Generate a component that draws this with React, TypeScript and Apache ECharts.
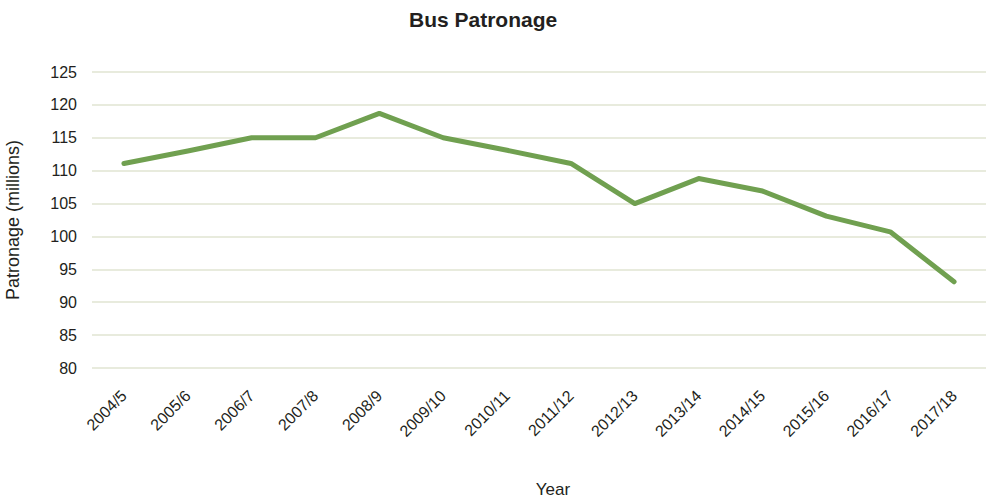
import React, { useEffect, useRef } from "react";
import * as echarts from "echarts";

const categories = [
  "2004/5", "2005/6", "2006/7", "2007/8", "2008/9", "2009/10", "2010/11",
  "2011/12", "2012/13", "2013/14", "2014/15", "2015/16", "2016/17", "2017/18",
];
const patronage = [111.1, 113, 115, 115, 118.7, 115, 113.1, 111.1, 105, 108.8, 106.9, 103.1, 100.7, 93.1];
const yMin = 80;
const yMax = 125;
const yStep = 5;

const FONT = "'Liberation Sans', Arial, sans-serif";

export default function App() {
  const ref = useRef<HTMLDivElement>(null);
  useEffect(() => {
    if (!ref.current) return;
    const chart = echarts.init(ref.current, undefined, { renderer: "svg" });
    chart.setOption({
      animation: false,
      backgroundColor: "#ffffff",
      textStyle: { fontFamily: FONT },
      title: {
        text: "Bus Patronage",
        left: 404,
        top: 4,
        textStyle: { fontFamily: FONT, fontSize: 21, fontWeight: "bold", color: "#231f20" },
      },
      grid: {
        left: 92,
        right: 4,
        top: 72,
        bottom: 131,
        containLabel: false,
        outerBoundsMode: "none",
      },
      xAxis: {
        type: "category",
        data: categories,
        boundaryGap: true,
        name: "Year",
        nameLocation: "middle",
        nameGap: 113,
        nameTextStyle: { fontFamily: FONT, fontSize: 17, color: "#231f20", padding: [0, 0, 0, 28] },
        axisLine: { show: false },
        axisTick: { show: false },
        axisLabel: {
          rotate: 45,
          interval: 0,
          margin: 25,
          fontFamily: FONT,
          fontSize: 16,
          color: "#231f20",
        },
      },
      yAxis: {
        type: "value",
        min: yMin,
        max: yMax,
        interval: yStep,
        name: "Patronage (millions)",
        nameLocation: "middle",
        nameGap: 70,
        nameRotate: 90,
        nameTextStyle: { fontFamily: FONT, fontSize: 18, color: "#231f20" },
        axisLine: { show: false },
        axisTick: { show: false },
        axisLabel: { margin: 15, fontFamily: FONT, fontSize: 16, color: "#231f20" },
        splitLine: { lineStyle: { color: "#e0e4d2", width: 1.5 } },
      },
      series: [
        {
          type: "line",
          data: patronage,
          symbol: "none",
          lineStyle: { color: "#70a050", width: 5, cap: "round", join: "round" },
        },
      ],
    });
    return () => chart.dispose();
  }, []);
  return (
    <div
      ref={ref}
      style={{ position: "absolute", left: 0, top: 0, width: 990, height: 499 }}
    />
  );
}
